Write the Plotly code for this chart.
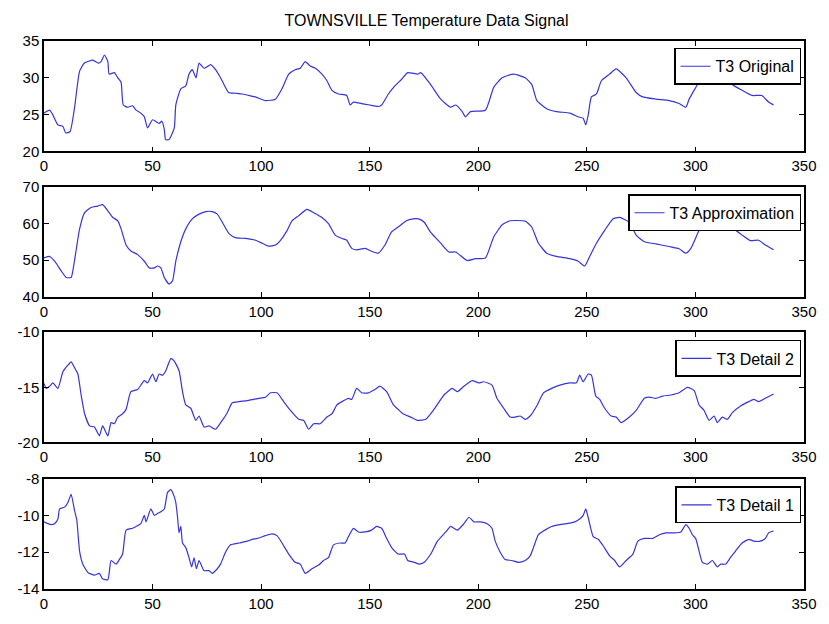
import plotly.graph_objects as go

# ---- data ----
orig_x = [0, 2.6, 4, 6.4, 8.7, 10, 12, 14, 16.4, 18.6, 22.5, 25, 26.3, 27.8, 29.4, 30, 32.4, 34, 35.5, 36.5,
          38.5, 40.8, 42.4, 44.6, 46.2, 47.7, 50, 53, 54.3, 55.4, 56, 57.6, 60, 60.7, 63, 65.3, 66.8, 68.3, 70,
          71.4, 73.7, 76.8, 79, 81.3, 85, 88.2, 91.3, 94.3, 97.4, 102, 106.6, 109.6, 112.7, 115.7, 118, 120.3,
          122.6, 125, 128, 130.3, 132.6, 135.6, 139.4, 141, 142.5, 146.3, 150, 154, 155.5, 158.6, 161.6, 164.7,
          167.5, 172, 173.5, 178, 182.7, 187.3, 189.6, 192.6, 194.1, 196.4, 203.3, 207.1, 211, 216.3, 221.6,
          224.6, 227, 231.5, 236, 242.2, 246, 248.3, 249.5, 250.6, 252.1, 254.4, 256.7, 260.5, 263.5, 268.1,
          272.7, 275.7, 281.8, 287.9, 292.5, 295.6, 297.1, 300.9, 303.2, 306, 309, 313, 316.9, 321.5, 326,
          330.6, 333.7, 336]
orig_y = [25.2, 25.6, 25.0, 23.6, 23.4, 22.5, 22.7, 25.8, 30.9, 32.0, 32.4, 32.0, 32.2, 33.1, 32.2, 30.5, 30.7,
          30.0, 29.4, 26.3, 26.0, 26.2, 25.6, 25.2, 24.7, 23.2, 24.3, 23.8, 24.1, 23.0, 21.6, 21.6, 23.2, 26.3,
          28.5, 28.9, 30.5, 31.1, 30.0, 32.0, 31.3, 31.8, 31.1, 30.0, 28.0, 27.9, 27.8, 27.6, 27.4, 26.9, 27.1,
          28.5, 30.5, 31.1, 31.3, 32.2, 31.6, 31.3, 30.5, 29.6, 28.3, 27.8, 27.6, 26.3, 26.7, 26.5, 26.3, 26.1,
          26.3, 27.8, 28.9, 29.8, 30.7, 30.5, 30.7, 29.1, 27.1, 26.0, 26.3, 25.4, 24.7, 25.4, 25.6, 28.7, 30.0,
          30.5, 30.0, 29.1, 26.9, 25.8, 25.4, 25.2, 24.7, 24.5, 23.6, 24.9, 27.4, 27.8, 29.6, 30.5, 31.2, 30.0,
          28.0, 27.4, 27.1, 26.9, 26.5, 26.0, 27.1, 29.1, 30.5, 31.2, 31.0, 30.5, 29.1, 28.3, 27.6, 27.6, 26.7,
          26.3]

approx_x = [0, 2.6, 4.9, 8, 10.2, 12.5, 14, 16.4, 18.7, 21.7, 24.8, 27, 29.4, 31.7, 34, 35.5, 37.8, 40, 43.1,
            46.2, 48.5, 50.8, 52.3, 53.8, 55.4, 57.6, 59.2, 60.7, 63, 65.3, 68.3, 71.4, 74.5, 77.5, 79.8, 82.1,
            85.2, 88.2, 92.8, 97.4, 100.5, 103.5, 106.6, 108.9, 112, 114.2, 117.3, 121.1, 124.2, 128, 131, 134.1,
            137.2, 139.4, 141.7, 144, 147.9, 150.9, 154, 157, 160, 163.1, 166.9, 170, 172.5, 175.1, 178, 182.7,
            186.5, 189.6, 194.9, 198.7, 203.3, 207.1, 211, 214.7, 221.6, 224.6, 227.7, 231.5, 236, 242.2, 246,
            249, 251.3, 254.4, 258.2, 262, 265, 269.6, 272.7, 276.5, 281.8, 287.9, 292.5, 295.6, 297.9, 301.7,
            305.5, 309, 313.9, 316.9, 321.5, 325.3, 329.1, 332.2, 336]
approx_y = [50.6, 51.0, 49.7, 47.0, 45.3, 45.3, 49.7, 58.5, 62.9, 64.3, 64.7, 65.1, 63.4, 61.6, 60.7, 58.5,
            54.1, 52.5, 51.5, 49.7, 47.9, 47.9, 48.4, 47.9, 45.3, 43.5, 44.4, 49.7, 55.0, 58.5, 61.2, 62.5, 63.2,
            63.2, 62.5, 60.3, 57.2, 56.1, 55.9, 55.4, 54.6, 53.8, 54.1, 55.4, 58.1, 60.7, 62.1, 63.8, 62.9, 61.6,
            59.9, 56.8, 55.9, 55.4, 53.2, 52.8, 53.2, 52.4, 51.9, 54.1, 57.6, 59.0, 60.7, 61.2, 61.2, 60.3, 57.6,
            54.6, 52.2, 52.2, 49.9, 50.4, 50.6, 56.3, 59.6, 60.7, 60.6, 59.0, 54.6, 51.9, 51.0, 50.4, 49.7, 48.4,
            51.0, 54.6, 58.1, 61.2, 61.6, 60.3, 56.8, 55.0, 54.4, 53.7, 53.1, 51.9, 53.2, 58.1, 61.6, 62.9, 61.6,
            59.0, 56.8, 55.3, 55.4, 54.1, 52.8]

det2_x = [0, 1, 2.6, 4.1, 6.4, 8.7, 11, 12.5, 14, 15.6, 17.1, 18.7, 21, 23.2, 25.5, 27, 29.4, 30.9, 32.4, 34,
          36.2, 37.8, 40, 43.1, 46.2, 47.7, 50, 51.5, 53, 54.6, 56.1, 58.4, 59.9, 62.2, 63.8, 65.3, 67.6, 69.9,
          71.4, 73.7, 76, 79, 82.1, 84.4, 86.7, 89.8, 93.6, 96.6, 98.9, 102, 104.3, 107.3, 110.4, 113.5, 117.3,
          119.6, 121.9, 124.2, 127.2, 130.3, 132.6, 134.9, 137.2, 140.2, 141.7, 144, 146.3, 149.4, 152.4, 154.7,
          157.8, 160.9, 163.1, 165.3, 168.9, 172, 175.8, 179.6, 184.2, 188, 190.3, 193.4, 197.2, 200.2, 202.5,
          206.3, 208.6, 211.7, 214.7, 217, 219.3, 221.6, 223.9, 226.9, 230, 233.8, 237.6, 242.2, 245.2, 246.7,
          248.3, 250.6, 252.1, 254.1, 255.9, 258.2, 261.2, 263.5, 265.8, 269.6, 272.7, 276.5, 278.8, 281.8,
          284.9, 288.7, 292.5, 296.3, 299.4, 301.7, 304, 306.3, 308.6, 310.1, 312.4, 314.7, 317, 320.8, 324.6,
          326.9, 329.2, 332.2, 336]
det2_y = [-14.65, -15.1, -14.9, -14.6, -15.1, -13.6, -13.0, -12.7, -13.2, -13.8, -15.7, -17.4, -18.5, -18.6,
          -19.4, -18.5, -19.4, -18.2, -18.3, -17.7, -17.4, -17.0, -15.4, -15.2, -14.4, -14.6, -13.8, -14.5,
          -13.8, -13.9, -13.5, -12.4, -12.6, -13.5, -15.4, -16.6, -16.9, -18.0, -17.6, -18.6, -18.5, -18.8,
          -18.0, -17.3, -16.4, -16.3, -16.2, -16.1, -16.0, -15.9, -15.5, -15.5, -16.3, -17.1, -17.9, -18.0,
          -18.8, -18.3, -18.3, -17.7, -17.4, -16.6, -16.3, -16.0, -16.1, -15.1, -15.5, -15.5, -15.2, -14.9,
          -15.4, -16.6, -17.0, -17.4, -17.7, -18.0, -17.9, -17.0, -15.7, -15.1, -15.4, -14.9, -14.4, -14.6,
          -14.5, -14.8, -16.0, -16.9, -17.7, -17.7, -17.6, -17.9, -17.6, -16.7, -15.5, -15.1, -14.8, -14.6,
          -14.6, -13.9, -14.5, -13.8, -13.9, -15.8, -16.1, -16.9, -17.6, -17.7, -18.2, -17.7, -17.1, -16.0,
          -15.9, -16.0, -15.8, -15.7, -15.5, -15.0, -15.3, -16.6, -17.1, -18.0, -17.6, -18.2, -17.7, -17.9,
          -17.3, -16.7, -16.3, -16.1, -16.3, -16.0, -15.6]

det1_x = [0, 1.8, 3.4, 4.9, 6.4, 7.2, 9.5, 11, 12.5, 14, 15.1, 16.4, 17.9, 20.2, 23.2, 25.5, 27, 29.4, 30.9,
          33.2, 34.7, 36.2, 37.8, 40.8, 42.4, 44.6, 46.2, 47, 49.2, 50.8, 52.3, 53.8, 55.4, 56.9, 58.4, 59.9,
          60.7, 61.5, 62.2, 63, 63.8, 65.3, 66.8, 68, 69.1, 70.2, 71.4, 73.7, 76, 77.5, 79.8, 81.3, 83.6, 85.9,
          89.8, 93.6, 95.9, 98.2, 102, 105, 107.3, 109.6, 112.7, 115.7, 118, 120.3, 123.4, 126.5, 128.7, 131,
          133.3, 136.4, 138.7, 140.2, 142.5, 144.8, 147.9, 150.9, 153.2, 155.5, 157.8, 160.1, 163.1, 166,
          167.5, 170.5, 172.8, 175.1, 178.1, 181.2, 185, 187.3, 190.3, 193.4, 195.7, 198, 201, 204.1, 206.3,
          207.8, 210.1, 212.4, 215.4, 218.5, 221.6, 223.9, 225.4, 227.7, 230.7, 233.8, 237.6, 240.7, 244.5,
          246.7, 248.3, 249.5, 250.6, 252.9, 255.2, 257.5, 260.5, 262.8, 265.1, 268.1, 271.2, 273.5, 276.5,
          280.3, 283.4, 286.4, 290.2, 293.3, 295.6, 297.1, 298.6, 300.1, 301.7, 303.2, 305.5, 307.8, 310.1,
          311.6, 313.9, 316.1, 318.4, 321.5, 324.6, 326.9, 329.9, 332.2, 333.7, 336]
det1_y = [-10.35, -10.45, -10.5, -10.45, -10.2, -9.65, -9.55, -9.3, -8.85, -9.7, -10.25, -11.95, -12.65,
          -13.1, -13.25, -13.15, -13.45, -13.5, -12.45, -12.65, -12.4, -12.1, -10.8, -10.7, -10.6, -10.45,
          -10.0, -10.35, -9.65, -10.0, -9.9, -9.8, -9.65, -8.75, -8.6, -8.95, -9.3, -10.1, -10.95, -10.6,
          -11.5, -11.75, -12.3, -12.8, -12.3, -12.9, -12.45, -13.0, -13.0, -13.15, -12.9, -12.65, -12.0,
          -11.6, -11.5, -11.4, -11.3, -11.25, -11.1, -11.0, -11.1, -11.5, -12.1, -12.55, -12.65, -13.15,
          -12.9, -12.7, -12.45, -12.3, -11.6, -11.5, -11.5, -11.15, -10.7, -10.9, -10.9, -10.8, -10.6, -10.7,
          -11.25, -11.75, -12.1, -12.1, -12.45, -12.55, -12.65, -12.55, -12.1, -11.4, -10.9, -10.6, -10.8,
          -10.45, -10.1, -10.35, -10.35, -10.45, -10.7, -11.4, -12.0, -12.4, -12.45, -12.55, -12.45, -12.2,
          -11.75, -11.05, -10.8, -10.6, -10.5, -10.45, -10.35, -10.2, -10.0, -9.65, -10.1, -11.15, -11.3,
          -11.65, -12.2, -12.45, -12.8, -12.45, -12.1, -11.4, -11.25, -11.25, -11.05, -10.95, -10.95, -10.9,
          -10.5, -10.7, -11.05, -11.25, -11.95, -12.55, -12.65, -12.45, -12.8, -12.65, -12.65, -12.3, -11.95,
          -11.5, -11.3, -11.4, -11.4, -11.25, -10.95, -10.85]

names = ["T3 Original", "T3 Approximation", "T3 Detail 2", "T3 Detail 1"]
y_ranges = [[20, 35], [40, 70], [-20, -10], [-14, -8]]
y_tickvals = [[20, 25, 30, 35], [40, 50, 60, 70], [-20, -15, -10], [-14, -12, -10, -8]]
y_ticktext = [["20", "25", "30", "35"], ["40", "50", "60", "70"], ["-20", "-15", "-10"],
              ["-14", "-12", "-10", "-8"]]
x_range = [0, 350]
x_dtick = 50
title_text = "TOWNSVILLE Temperature Data Signal"

# ---- layout geometry (pixels -> paper) ----
W, H = 829, 624
ML, MR, MT, MB = 44, 20, 41, 22
PH = H - MT - MB
panel_px = [(41, 154), (190, 303), (339, 452), (489, 602)]
legend_top_px = [48, 198, 347, 497]
legend_entry_w = [100, 150, 100, 100]

def py(p):
    return (H - MB - p) / PH

series = [(orig_x, orig_y), (approx_x, approx_y), (det2_x, det2_y), (det1_x, det1_y)]
LINE = "#3535d8"
FONT = "Liberation Sans, Arial, sans-serif"

fig = go.Figure()
layout = dict(
    width=W, height=H,
    margin=dict(l=ML, r=MR, t=MT, b=MB),
    paper_bgcolor="white", plot_bgcolor="white",
    font=dict(family=FONT, size=15, color="black"),
    showlegend=True,
)
for i, (xs, ys) in enumerate(series):
    k = "" if i == 0 else str(i + 1)
    leg = "legend" + k
    fig.add_trace(go.Scatter(x=xs, y=ys, mode="lines", name=names[i],
                             line=dict(color=LINE, width=1.2, shape="spline", smoothing=0.5),
                             xaxis="x" + k, yaxis="y" + k, legend=leg))
    top, bot = panel_px[i]
    axis_common = dict(showline=True, linecolor="black", linewidth=1.5, mirror="ticks",
                       ticks="inside", ticklen=5, tickcolor="black", tickwidth=1.2,
                       showgrid=False, zeroline=False,
                       tickfont=dict(family=FONT, size=15, color="black"))
    layout["xaxis" + k] = dict(domain=[0, 1], range=x_range, dtick=x_dtick, tick0=0,
                               anchor="y" + k, **axis_common)
    layout["yaxis" + k] = dict(domain=[py(bot), py(top)], range=y_ranges[i],
                               tickmode="array", tickvals=y_tickvals[i], ticktext=y_ticktext[i],
                               anchor="x" + k, **axis_common)
    layout[leg] = dict(x=(806 - ML) / (W - ML - MR), y=py(legend_top_px[i]),
                       xanchor="right", yanchor="top",
                       bgcolor="white", bordercolor="black", borderwidth=1.5,
                       entrywidth=legend_entry_w[i], entrywidthmode="pixels",
                       font=dict(family=FONT, size=16, color="black"))

layout["title"] = dict(text=title_text, x=(44 + 809) / 2 / W, xanchor="center",
                       y=1 - 20 / H, yanchor="middle",
                       font=dict(family=FONT, size=16, color="black"))
fig.update_layout(**layout)
fig.write_html("out.html")
